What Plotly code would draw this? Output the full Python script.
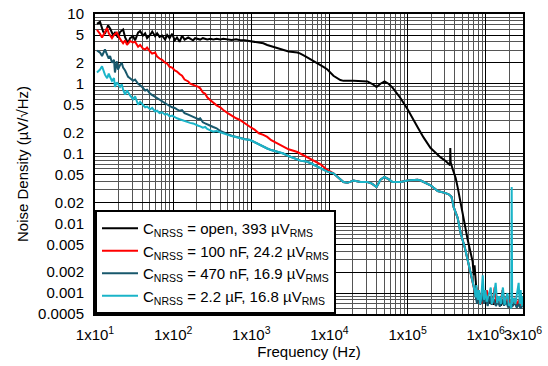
import plotly.graph_objects as go
import numpy as np

# ---------------- data ----------------
open_f = [10.6, 11.6, 12.7, 13.4, 14.7, 15.6, 17.0, 18.0, 19.7, 20.9, 22.9, 24.3, 26.5, 28.1, 30.7, 32.6,
          35.6, 37.8, 41, 43.8, 46.4, 50.7, 54, 58.8, 62.4, 67, 72.3, 78.9, 83.8, 90, 97, 105, 112, 121,
          130, 140, 156, 165, 180, 191, 210, 222, 240, 257, 273, 300, 326, 360, 401, 438, 500, 560, 640,
          723, 820, 970, 1100, 1250, 1425, 1600, 1800, 2150, 2570, 3000, 3890, 4250, 5000, 5700, 7010,
          8380, 9420, 11250, 13800, 15100, 20300, 25000, 30700, 35000, 40100, 45000, 50700, 57000, 64200,
          81400, 100000, 134000, 160000, 197000, 243000, 265000, 307000, 336000, 350000, 352000, 356000,
          377000, 412000, 437000, 478000, 507000, 588000, 681000, 701000, 720000, 745000, 760000, 800000,
          840000, 880000, 920000, 960000, 1.0e6, 1.05e6, 1.1e6, 1.15e6, 1.2e6, 1.26e6, 1.32e6, 1.4e6,
          1.48e6, 1.56e6, 1.65e6, 1.75e6, 1.85e6, 1.95e6, 2.05e6, 2.2e6, 2.35e6, 2.5e6, 2.65e6, 2.8e6, 2.95e6]
open_v = [7.2, 7.7, 5.6, 5.2, 6.9, 6.2, 5.0, 5.4, 4.6, 5.5, 6.0, 4.6, 3.8, 4.5, 4.8, 4.2,
          5.4, 5.7, 4.9, 5.3, 4.5, 5.0, 5.6, 4.8, 5.3, 4.7, 4.9, 4.3, 5.0, 4.5, 5.2, 4.2, 4.6, 4.0,
          4.9, 4.3, 4.6, 4.4, 4.2, 4.5, 4.4, 4.3, 4.5, 4.4, 4.3, 4.4, 4.3, 4.4, 4.3, 4.4, 4.3, 4.25, 4.35,
          4.2, 4.2, 4.1, 4.0, 3.9, 3.8, 3.6, 3.45, 3.3, 3.05, 2.9, 2.8, 2.7, 2.45, 2.25, 2.0,
          1.75, 1.6, 1.3, 1.13, 1.1, 1.1, 1.1, 1.08, 1.0, 0.9, 1.0, 1.08, 1.0, 0.88,
          0.62, 0.43, 0.24, 0.17, 0.12, 0.094, 0.088, 0.078, 0.072, 0.068, 0.12, 0.075,
          0.060, 0.045, 0.033, 0.019, 0.013, 0.0058, 0.0028, 0.0018, 0.0025, 0.0012, 0.0011, 0.0008,
          0.00095, 0.0007, 0.0009, 0.00075, 0.0008, 0.00072, 0.00085, 0.0007, 0.0009, 0.00068, 0.00078, 0.0007,
          0.00085, 0.00066, 0.00075, 0.00068, 0.0008, 0.00065, 0.00072, 0.00066, 0.00075, 0.00064, 0.0007, 0.00062, 0.00068]

n100_f = [10.6, 11.6, 12.3, 13.4, 14.3, 15.0, 16.5, 17.5, 19.0, 20.9, 22.9, 24.3, 25.7, 28.1, 30.7, 32.6,
          35.6, 37.8, 41, 43.8, 46.4, 50.7, 53.8, 58.8, 62.4, 67, 72.3, 78.9, 83.8, 90, 97, 105, 112, 121,
          130, 140, 156, 165, 180, 191, 210, 222, 240, 257, 273, 300, 326, 360, 401, 438, 500, 560, 640,
          723, 820, 970, 1100, 1250, 1425, 1600, 1800, 2150, 2570, 3000, 3890, 4250, 5000, 5700, 7010,
          7670, 8380, 9420, 11250, 13800, 15100, 17000, 20300, 25000, 30700, 35000, 40100, 45000, 50700,
          57000, 64200, 81400, 100000, 134000, 147000, 197000, 243000, 307000, 336000, 365000, 389000,
          437000, 478000, 540000, 588000, 650000, 681000, 720000, 745000, 770000, 800000, 840000, 880000,
          930000, 980000, 1.03e6, 1.09e6, 1.15e6, 1.22e6, 1.3e6, 1.38e6, 1.46e6, 1.55e6, 1.64e6, 1.74e6,
          1.85e6, 1.96e6, 2.08e6, 2.2e6, 2.35e6, 2.5e6, 2.65e6, 2.8e6, 2.95e6]
n100_v = [5.9, 5.2, 4.6, 5.6, 6.3, 5.3, 4.5, 5.0, 5.4, 4.4, 3.8, 4.2, 3.6, 4.1, 3.9, 4.0,
          3.4, 3.6, 3.2, 3.1, 3.3, 2.9, 2.7, 2.8, 2.45, 2.3, 2.2, 2.0, 1.95, 1.75, 1.7, 1.55, 1.5, 1.38,
          1.3, 1.15, 1.08, 1.0, 0.97, 0.95, 0.9, 0.86, 0.75, 0.72, 0.64, 0.58, 0.53, 0.49, 0.46, 0.42, 0.38, 0.35, 0.32,
          0.3, 0.27, 0.24, 0.22, 0.195, 0.185, 0.173, 0.155, 0.14, 0.125, 0.115, 0.105, 0.1, 0.09, 0.083, 0.074,
          0.07, 0.064, 0.058, 0.052, 0.042, 0.039, 0.038, 0.041, 0.039, 0.039, 0.037, 0.033, 0.042, 0.046,
          0.043, 0.039, 0.039, 0.041, 0.042, 0.041, 0.035, 0.029, 0.027, 0.026, 0.024, 0.017,
          0.012, 0.0072, 0.0045, 0.003, 0.0018, 0.0015, 0.0011, 0.0009, 0.0012, 0.0008, 0.001, 0.0007,
          0.0009, 0.00075, 0.0011, 0.0008, 0.0009, 0.0007, 0.0012, 0.00072, 0.0009, 0.0007, 0.0011, 0.0007,
          0.0009, 0.00068, 0.0008, 0.0007, 0.00085, 0.00066, 0.0008, 0.00064, 0.0007]

n470_f = [10.6, 11.6, 12.3, 13.0, 13.4, 14.3, 15.0, 15.6, 16.5, 17.5, 18.0, 19.0, 19.7, 20.9, 22.0, 22.9,
          24.3, 25.7, 26.5, 28.1, 30.7, 32.6, 35.6, 37.8, 41, 43.8, 46.4, 50.7, 53.8, 58.8, 62.4, 67, 72.3,
          78.9, 83.8, 90, 97, 105, 112, 121, 130, 140, 156, 165, 180, 191, 210, 222, 240, 257, 273, 300,
          326, 360, 401, 438, 500, 560, 640, 723, 820, 970, 1100, 1250, 1425, 1600, 1800, 2150, 2570, 3000,
          3890, 4250, 5000, 5700, 7010, 8380, 9420, 11250, 13800, 15100, 17000, 20300, 25000, 30700, 35000,
          40100, 45000, 50700, 57000, 64200, 81400, 100000, 134000, 147000, 197000, 243000, 307000, 336000,
          365000, 389000, 437000, 478000, 540000, 588000, 650000, 681000, 720000, 745000, 775000, 810000,
          850000, 900000, 950000, 1.0e6, 1.06e6, 1.12e6, 1.19e6, 1.27e6, 1.35e6, 1.43e6, 1.52e6, 1.62e6,
          1.72e6, 1.83e6, 1.94e6, 2.06e6, 2.2e6, 2.35e6, 2.5e6, 2.65e6, 2.8e6, 2.95e6]
n470_v = [3.0, 2.8, 2.5, 2.9, 3.1, 2.6, 2.3, 2.5, 2.0, 2.2, 1.45, 2.1, 1.6, 1.85, 2.0, 1.7,
          1.55, 1.35, 1.26, 1.2, 1.1, 1.15, 1.0, 0.95, 0.88, 0.8, 0.82, 0.72, 0.69, 0.64, 0.62, 0.58, 0.55,
          0.53, 0.5, 0.48, 0.46, 0.45, 0.43, 0.41, 0.42, 0.38, 0.36, 0.35, 0.34, 0.33, 0.31, 0.32, 0.28, 0.27, 0.26, 0.25,
          0.24, 0.23, 0.21, 0.2, 0.19, 0.18, 0.172, 0.167, 0.161, 0.156, 0.145, 0.135, 0.125, 0.118, 0.112, 0.105, 0.1, 0.092,
          0.082, 0.079, 0.077, 0.073, 0.065, 0.058, 0.055, 0.052, 0.042, 0.039, 0.038, 0.041, 0.039, 0.039, 0.037,
          0.033, 0.042, 0.046, 0.043, 0.039, 0.039, 0.041, 0.042, 0.041, 0.035, 0.029, 0.027, 0.026,
          0.024, 0.017, 0.012, 0.0072, 0.0045, 0.003, 0.0018, 0.0015, 0.0011, 0.00087, 0.0007, 0.001,
          0.00068, 0.0009, 0.0007, 0.00085, 0.00065, 0.0009, 0.00068, 0.0008, 0.00065, 0.00075, 0.00064, 0.0008,
          0.00066, 0.00075, 0.00062, 0.0007, 0.00065, 0.00072, 0.00062, 0.0007, 0.0006, 0.00066]

n2u2_f = [10.6, 11.6, 12.3, 13.0, 13.4, 14.3, 15.0, 15.6, 16.5, 17.5, 18.0, 19.0, 20.9, 22.0, 22.9, 24.3,
          25.7, 28.1, 30.7, 32.6, 35.6, 37.8, 41, 43.8, 46.4, 50.7, 53.8, 58.8, 62.4, 67, 72.3, 78.9, 83.8,
          90, 97, 105, 112, 121, 130, 140, 156, 165, 180, 191, 210, 222, 240, 257, 273, 300, 326, 360, 401,
          438, 500, 560, 640, 723, 820, 970, 1100, 1250, 1425, 1600, 1800, 2150, 2570, 3000, 3890, 4250,
          5000, 5700, 7010, 8380, 9420, 11250, 13800, 15100, 17000, 20300, 25000, 30700, 35000, 40100, 45000,
          50700, 57000, 64200, 81400, 100000, 134000, 147000, 197000, 243000, 307000, 336000, 365000, 389000,
          437000, 478000, 540000, 588000, 650000, 681000, 720000, 745000, 760000, 790000, 820000, 850000,
          880000, 916000, 950000, 990000, 1.03e6, 1.08e6, 1.16e6, 1.2e6, 1.26e6, 1.34e6, 1.4e6, 1.48e6,
          1.56e6, 1.66e6, 1.74e6, 1.82e6, 1.9e6, 1.98e6, 2.06e6, 2.12e6, 2.15e6, 2.18e6, 2.3e6, 2.4e6,
          2.5e6, 2.64e6, 2.72e6, 2.8e6, 2.9e6, 2.98e6]
n2u2_v = [1.45, 1.6, 1.78, 1.5, 1.35, 1.2, 1.4, 1.25, 1.1, 1.2, 0.9, 1.05, 0.9, 0.98, 0.82, 0.7,
          0.8, 0.68, 0.6, 0.66, 0.5, 0.55, 0.5, 0.46, 0.47, 0.43, 0.45, 0.4, 0.41, 0.38, 0.39, 0.36, 0.37,
          0.34, 0.35, 0.33, 0.32, 0.31, 0.3, 0.29, 0.28, 0.275, 0.27, 0.26, 0.25, 0.245, 0.235, 0.24, 0.225, 0.215, 0.206, 0.21, 0.2,
          0.195, 0.185, 0.178, 0.17, 0.165, 0.16, 0.156, 0.145, 0.135, 0.125, 0.118, 0.112, 0.105, 0.1, 0.092, 0.082, 0.079,
          0.077, 0.073, 0.065, 0.058, 0.055, 0.052, 0.042, 0.039, 0.038, 0.041, 0.039, 0.039, 0.037, 0.033, 0.042,
          0.046, 0.043, 0.039, 0.039, 0.041, 0.042, 0.041, 0.035, 0.029, 0.027, 0.026, 0.024, 0.017,
          0.012, 0.0072, 0.0045, 0.003, 0.0018, 0.0015, 0.0011, 0.00087, 0.0013, 0.0008, 0.0011, 0.0007,
          0.0009, 0.0018, 0.0008, 0.0011, 0.00075, 0.0009, 0.0012, 0.0007, 0.00085, 0.0014, 0.00072, 0.0009,
          0.0007, 0.0012, 0.00068, 0.00085, 0.001, 0.00066, 0.0007, 0.0006, 0.033, 0.0007, 0.00085, 0.0007,
          0.0009, 0.0014, 0.0007, 0.0011, 0.00065, 0.0009]

series_names = ["C<sub>NRSS</sub> = open, 393 µV<sub>RMS</sub>",
                "C<sub>NRSS</sub> = 100 nF, 24.2 µV<sub>RMS</sub>",
                "C<sub>NRSS</sub> = 470 nF, 16.9 µV<sub>RMS</sub>",
                "C<sub>NRSS</sub> = 2.2 µF, 16.8 µV<sub>RMS</sub>"]
series_colors = ["#000000", "#FF0000", "#18586C", "#1AB4C8"]

x_tickvals = [10, 100, 1000, 10000, 100000, 1000000, 3000000]
x_ticktext = ["1x10<sup>1</sup>", "1x10<sup>2</sup>", "1x10<sup>3</sup>", "1x10<sup>4</sup>",
              "1x10<sup>5</sup>", "1x10<sup>6</sup>", "3x10<sup>6</sup>"]
y_tickvals = [0.0005, 0.001, 0.002, 0.005, 0.01, 0.02, 0.05, 0.1, 0.2, 0.5, 1, 2, 5, 10]
y_ticktext = ["0.0005", "0.001", "0.002", "0.005", "0.01", "0.02", "0.05", "0.1", "0.2", "0.5",
              "1", "2", "5", "10"]

# ---------------- figure ----------------
FONT = "Liberation Sans, Arial, sans-serif"
fig = go.Figure()
for fx, fy, nm, col in zip([open_f, n100_f, n470_f, n2u2_f], [open_v, n100_v, n470_v, n2u2_v],
                           series_names, series_colors):
    fig.add_trace(go.Scatter(x=fx, y=fy, mode="lines", name=nm,
                             line=dict(color=col, width=2)))

x_minor = [m * 10 ** d for d in range(1, 7) for m in range(2, 10) if m * 10 ** d < 3e6]
y_minor = [m * 10 ** d for d in range(-4, 1) for m in (3, 4, 6, 7, 8, 9) if 0.0005 < m * 10 ** d < 10]
y_minor += [0.0006, 0.0007, 0.0008, 0.0009]

fig.update_layout(
    width=548, height=366,
    margin=dict(l=95, r=25, t=14, b=52, autoexpand=False),
    paper_bgcolor="white", plot_bgcolor="white",
    font=dict(family=FONT, size=15, color="black"),
    showlegend=True,
    legend=dict(x=0, y=0, xanchor="left", yanchor="bottom",
                bgcolor="white", bordercolor="black", borderwidth=2,
                font=dict(family=FONT, size=15, color="black"),
                tracegroupgap=0, itemwidth=36),
)
fig.update_xaxes(type="log", range=[1, np.log10(3e6)], automargin=False,
                 tickmode="array", tickvals=x_tickvals, ticktext=x_ticktext, tickangle=0,
                 ticklabelstandoff=6,
                 showgrid=True, gridcolor="#000000", gridwidth=1,
                 minor=dict(tickvals=x_minor, showgrid=True, gridcolor="#555555", gridwidth=1, ticks=""),
                 showline=True, linecolor="black", linewidth=2, mirror=True, ticks="",
                 zeroline=False,
                 title=dict(text="Frequency (Hz)", font=dict(size=15), standoff=2),
                 tickfont=dict(size=15))
fig.update_yaxes(type="log", range=[np.log10(0.0005), 1], automargin=False,
                 tickmode="array", tickvals=y_tickvals, ticktext=y_ticktext,
                 ticklabelstandoff=6,
                 showgrid=True, gridcolor="#000000", gridwidth=1,
                 minor=dict(tickvals=y_minor, showgrid=True, gridcolor="#555555", gridwidth=1, ticks=""),
                 showline=True, linecolor="black", linewidth=2, mirror=True, ticks="",
                 zeroline=False,
                 title=dict(text="Noise Density (µV/√Hz)", font=dict(size=15), standoff=6),
                 tickfont=dict(size=15))

fig.write_html("out.html", config={"displayModeBar": False},
               post_script="document.body.style.margin='0px';document.body.style.padding='0px';")
